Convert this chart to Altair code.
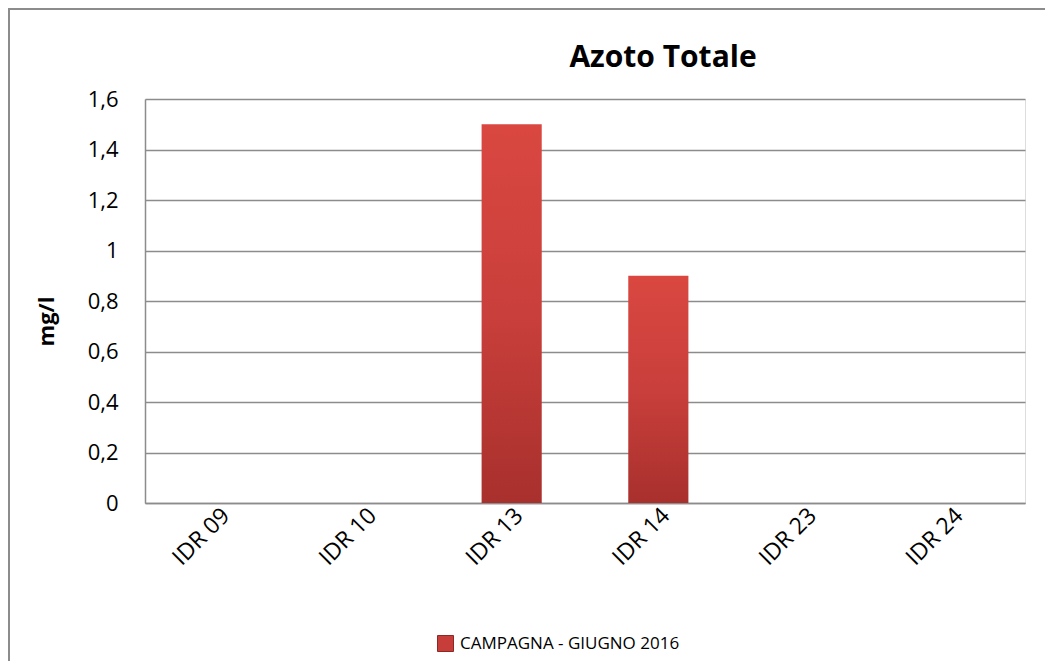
import altair as alt
import pandas as pd

categories = ["IDR 09", "IDR 10", "IDR 13", "IDR 14", "IDR 23", "IDR 24"]
values = [0, 0, 1.5, 0.9, 0, 0]
series_name = "CAMPAGNA - GIUGNO 2016"
chart_title = "Azoto Totale"
y_ticks = [0, 0.2, 0.4, 0.6, 0.8, 1.0, 1.2, 1.4, 1.6]

df = pd.DataFrame({"cat": categories, "val": values, "series": [series_name] * len(categories)})
one_df = pd.DataFrame({"t": [chart_title]})

W, H = 880, 404
FONT = "Open Sans"
GRID = "#8c8c8c"
LBL = 22

x_enc = alt.X("cat:N", sort=categories, title=None,
              scale=alt.Scale(paddingInner=0.59, paddingOuter=0.295),
              axis=alt.Axis(labelAngle=-45, labelAlign="right", labelBaseline="top",
                            labelFontSize=23, labelFont=FONT, labelColor="#000000",
                            ticks=False, domainColor=GRID, domainWidth=1.5, labelPadding=1,
                            labelOffset=0, grid=False))
y_enc = alt.Y("val:Q", title="mg/l",
              scale=alt.Scale(domain=[0, 1.6], nice=False),
              axis=alt.Axis(values=y_ticks, labelExpr="replace(format(datum.value, '.1~f'), '.', ',')",
                            labelFontSize=LBL, labelFont=FONT, labelColor="#000000", labelPadding=27,
                            ticks=False, domainColor=GRID, domainWidth=1.5, grid=True, gridColor=GRID,
                            gridWidth=1.3, titleFont=FONT, titleFontSize=22, titleFontWeight="bold",
                            titleColor="#000000", titleX=-99, titleY=222, titleAngle=-90,
                            titleAlign="center", titleBaseline="middle"))

grad = alt.LinearGradient(gradient="linear", x1=0, x2=0, y1=0, y2=1,
                          stops=[alt.GradientStop(color="#DA4741", offset=0),
                                 alt.GradientStop(color="#C93F3B", offset=0.5),
                                 alt.GradientStop(color="#A8302D", offset=1)])

bars = alt.Chart(df).mark_bar(fill=grad, strokeWidth=0).encode(x=x_enc, y=y_enc)

legend_layer = alt.Chart(df).mark_bar(opacity=0).encode(
    x=alt.X("cat:N", sort=categories),
    y=alt.Y("val:Q"),
    color=alt.Color("series:N", title=None,
                    scale=alt.Scale(range=["#C63D39"]),
                    legend=alt.Legend(orient="none", legendX=292, legendY=536, symbolType="square",
                                      symbolSize=256, symbolOpacity=1, symbolStrokeColor="#8E2825",
                                      symbolStrokeWidth=1, labelFont=FONT, labelFontSize=17,
                                      labelColor="#000000", labelOffset=6, labelLimit=500)))

frame = alt.Chart(one_df).mark_rect(fill=None, stroke=GRID, strokeWidth=2, clip=False).encode(
    x=alt.value(-136), x2=alt.value(W + 60), y=alt.value(-90), y2=alt.value(H + 220))

title = alt.Chart(one_df).mark_text(font=FONT, fontSize=30, fontWeight="bold", color="#000000",
                                    align="center", baseline="alphabetic").encode(
    text="t:N", x=alt.value(518), y=alt.value(-32))

chart = alt.layer(frame, bars, legend_layer, title).properties(
    width=W, height=H,
    autosize=alt.AutoSizeParams(type="none"),
    padding={"left": 137, "top": 91, "right": 20, "bottom": 158},
).configure_view(stroke=None).configure(background="white")

chart.save("out.html", embed_options={"renderer": "svg", "actions": False})
